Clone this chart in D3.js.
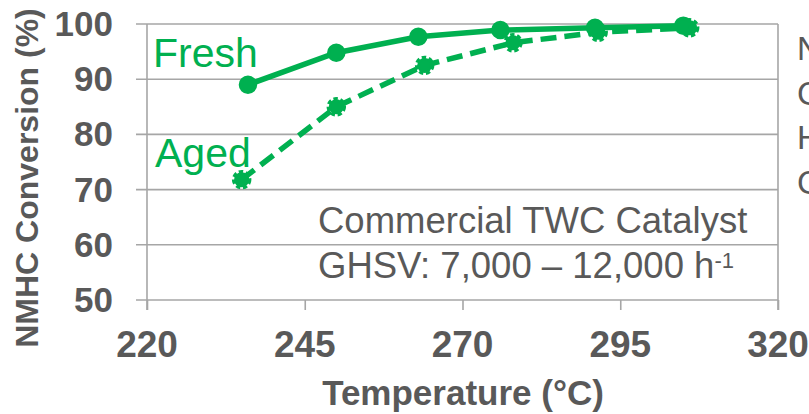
<!DOCTYPE html>
<html>
<head>
<meta charset="utf-8">
<script src="https://cdn.jsdelivr.net/npm/d3@7"></script>
<style>
  html, body { margin: 0; padding: 0; background: #fff; overflow: hidden; }
  svg { display: block; font-family: "Liberation Sans", Arial, sans-serif; }
</style>
</head>
<body>
<svg id="chart" width="809" height="414"></svg>
<script>
// NMHC conversion vs. inlet temperature, fresh and aged catalyst
const freshTemp = [236, 250, 263, 276, 291, 305];
const freshConv = [89.0, 94.8, 97.7, 98.9, 99.3, 99.7];
const agedTemp  = [235, 250, 264, 278, 291.5, 306];
const agedConv  = [71.8, 85.0, 92.5, 96.6, 98.5, 99.3];

const xTicks = [220, 245, 270, 295, 320];
const yTicks = [50, 60, 70, 80, 90, 100];

const GREEN = "#00B050";
const GREY_TEXT = "#595959";
const GRID = "#a6a6a6";

const svg = d3.select("#chart");

const x = d3.scaleLinear().domain([220, 320]).range([147, 778]);
const y = d3.scaleLinear().domain([50, 100]).range([300, 24]);

// horizontal gridlines with left tick stubs
svg.append("g")
  .selectAll("line")
  .data(yTicks)
  .join("line")
  .attr("x1", 136).attr("x2", x(320))
  .attr("y1", d => y(d)).attr("y2", d => y(d))
  .attr("stroke", GRID).attr("stroke-width", 1.6);

// left axis and right border
svg.append("line")
  .attr("x1", x(220)).attr("x2", x(220))
  .attr("y1", y(100)).attr("y2", 310)
  .attr("stroke", GRID).attr("stroke-width", 1.6);
svg.append("line")
  .attr("x1", x(320)).attr("x2", x(320))
  .attr("y1", y(100)).attr("y2", 310)
  .attr("stroke", GRID).attr("stroke-width", 1.6);

// bottom axis ticks
const xAxis = d3.axisBottom(x).tickValues(xTicks).tickSize(10).tickFormat("");
const gx = svg.append("g").attr("transform", `translate(0,${y(50)})`).call(xAxis);
gx.select(".domain").remove();
gx.selectAll(".tick line").attr("stroke", GRID).attr("stroke-width", 1.6);

// tick labels
svg.append("g")
  .selectAll("text")
  .data(yTicks)
  .join("text")
  .attr("x", 113)
  .attr("y", d => y(d) + 12)
  .attr("text-anchor", "end")
  .attr("font-size", 35)
  .attr("font-weight", "bold")
  .attr("fill", GREY_TEXT)
  .text(d => d);

svg.append("g")
  .selectAll("text")
  .data(xTicks)
  .join("text")
  .attr("x", d => x(d))
  .attr("y", 357)
  .attr("text-anchor", "middle")
  .attr("font-size", 37)
  .attr("font-weight", "bold")
  .attr("fill", GREY_TEXT)
  .text(d => d);

// axis titles
svg.append("text")
  .attr("x", 463).attr("y", 405)
  .attr("text-anchor", "middle")
  .attr("font-size", 35).attr("font-weight", "bold")
  .attr("fill", GREY_TEXT)
  .text("Temperature (°C)");

svg.append("text")
  .attr("transform", "translate(38,178) rotate(-90)")
  .attr("text-anchor", "middle")
  .attr("font-size", 32).attr("font-weight", "bold")
  .attr("fill", GREY_TEXT)
  .text("NMHC Conversion (%)");

// series
const line = d3.line().x(d => x(d[0])).y(d => y(d[1]));
const fresh = d3.zip(freshTemp, freshConv);
const aged = d3.zip(agedTemp, agedConv);

svg.append("path")
  .datum(aged)
  .attr("d", line)
  .attr("fill", "none")
  .attr("stroke", GREEN).attr("stroke-width", 5.5)
  .attr("stroke-dasharray", "16,8");

svg.append("g")
  .selectAll("circle")
  .data(aged)
  .join("circle")
  .attr("cx", d => x(d[0])).attr("cy", d => y(d[1]))
  .attr("r", 7.5)
  .attr("fill", GREEN)
  .attr("stroke", GREEN).attr("stroke-width", 4.5)
  .attr("stroke-dasharray", "4,2.5");

svg.append("path")
  .datum(fresh)
  .attr("d", line)
  .attr("fill", "none")
  .attr("stroke", GREEN).attr("stroke-width", 5.5);

svg.append("g")
  .selectAll("circle")
  .data(fresh)
  .join("circle")
  .attr("cx", d => x(d[0])).attr("cy", d => y(d[1]))
  .attr("r", 7.5)
  .attr("fill", GREEN)
  .attr("stroke", GREEN).attr("stroke-width", 3.5);

// series labels
svg.append("text")
  .attr("x", 153).attr("y", 67)
  .attr("font-size", 41).attr("fill", GREEN)
  .text("Fresh");
svg.append("text")
  .attr("x", 155).attr("y", 167)
  .attr("font-size", 41).attr("fill", GREEN)
  .text("Aged");

// annotation
svg.append("text")
  .attr("x", 318).attr("y", 233)
  .attr("font-size", 36.5).attr("fill", GREY_TEXT)
  .text("Commercial TWC Catalyst");

const ghsv = svg.append("text")
  .attr("x", 318).attr("y", 278)
  .attr("font-size", 36.5).attr("fill", GREY_TEXT);
ghsv.append("tspan").text("GHSV: 7,000 \u2013 12,000 h");
ghsv.append("tspan").attr("font-size", 22).attr("dy", -10).text("-1");

// side notes
const sideLines = ["N", "C", "H", "C"];
svg.append("g")
  .selectAll("text")
  .data(sideLines)
  .join("text")
  .attr("x", 797)
  .attr("y", (d, i) => 60 + i * 44.5)
  .attr("font-size", 33)
  .attr("fill", GREY_TEXT)
  .text(d => d);
</script>
</body>
</html>
